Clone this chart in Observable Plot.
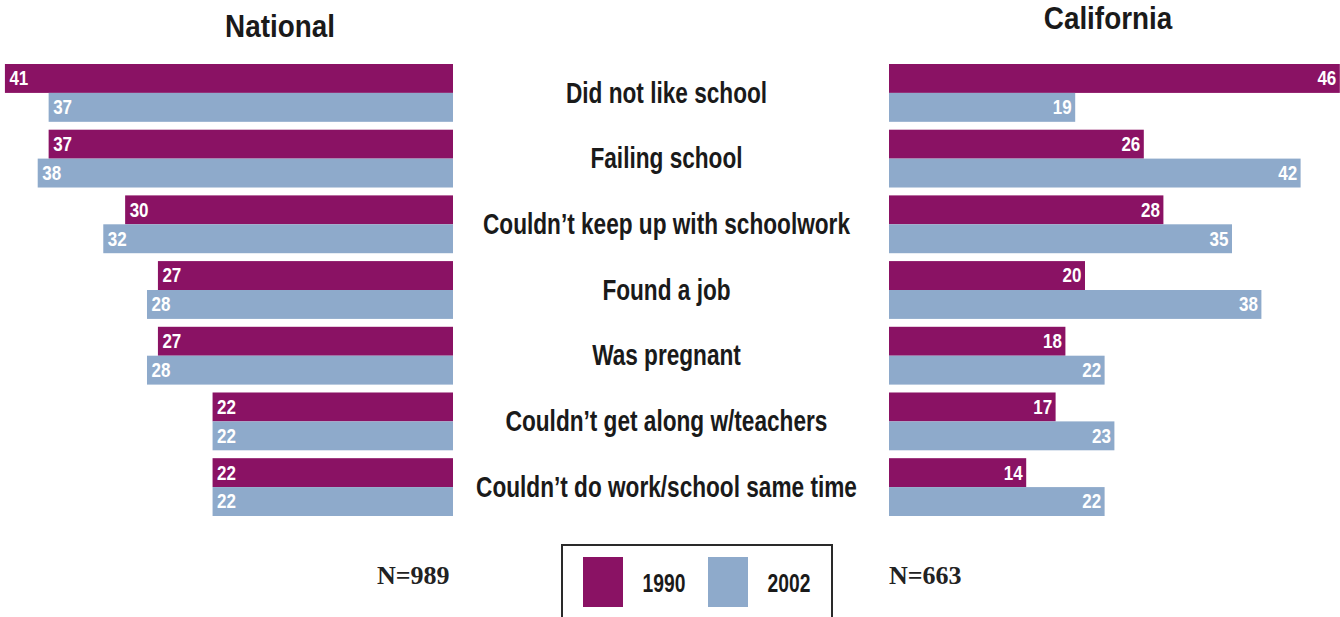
<!DOCTYPE html>
<html>
<head>
<meta charset="utf-8">
<script src="https://cdn.jsdelivr.net/npm/d3@7"></script>
<script src="https://cdn.jsdelivr.net/npm/@observablehq/plot@0.6"></script>
<style>
  html, body { margin: 0; padding: 0; background: #fff; }
  #root { position: relative; width: 1340px; height: 617px; overflow: hidden; background: #fff;
          font-family: "Liberation Sans", Arial, sans-serif; }
  .title { font-weight: bold; font-size: 32px; line-height: 32px; color: #1a1a1a; text-align: center; width: 300px;
           transform: scaleX(0.87); transform-origin: 50% 50%; white-space: nowrap; }
  .nlab { font-family: "Liberation Serif", "Times New Roman", serif; font-weight: bold; font-size: 26px; line-height: 26px; color: #222; white-space: nowrap; }
  .legbox { border: 2px solid #2a2a2a; box-sizing: border-box; }
  .legtext { font-weight: bold; font-size: 26px; line-height: 26px; color: #1a1a1a; text-align: center; width: 80px;
             transform: scaleX(0.74); transform-origin: 50% 50%; }
  svg { overflow: visible; }
</style>
</head>
<body>
<div id="root"></div>
<script>
// ---- data ----
const categories = [
  "Did not like school",
  "Failing school",
  "Couldn\u2019t keep up with schoolwork",
  "Found a job",
  "Was pregnant",
  "Couldn\u2019t get along w/teachers",
  "Couldn\u2019t do work/school same time"
];
const years = ["1990", "2002"];
const yearColors = ["#8a1264", "#8eaacb"];
const national1990 = [41, 37, 30, 27, 27, 22, 22];
const national2002 = [37, 38, 32, 28, 28, 22, 22];
const california1990 = [46, 26, 28, 20, 18, 17, 14];
const california2002 = [19, 42, 35, 38, 22, 23, 22];
const panelTitles = ["National", "California"];
const sampleSizes = ["N=989", "N=663"];

// ---- build tables ----
function rows(v1990, v2002) {
  const out = [];
  categories.forEach((c, i) => {
    out.push({cat: c, year: years[0], value: v1990[i]});
    out.push({cat: c, year: years[1], value: v2002[i]});
  });
  return out;
}
const nationalRows = rows(national1990, national2002);
const californiaRows = rows(california1990, california2002);

const FONT = '"Liberation Sans", Arial, sans-serif';
const H = 530;
const fyOpts = {domain: categories, paddingInner: 0.12, paddingOuter: 0, round: false, axis: null, label: null};
const yOpts = {domain: years, padding: 0, round: false, axis: null, label: null};
const colorOpts = {domain: years, range: yearColors};

const root = document.getElementById("root");
function place(el, left, top) {
  el.style.position = "absolute";
  el.style.left = left + "px";
  el.style.top = top + "px";
  root.appendChild(el);
}
// condense svg text horizontally (narrow bold face look)
function condense(svg, factor) {
  svg.querySelectorAll("text").forEach(t => {
    const len = t.getComputedTextLength();
    if (len > 0) {
      t.setAttribute("textLength", (len * factor).toFixed(2));
      t.setAttribute("lengthAdjust", "spacingAndGlyphs");
    }
  });
}

// National (bars grow leftward)
const nat = Plot.plot({
  width: 460, height: H,
  marginLeft: 0, marginRight: 7, marginTop: 64, marginBottom: H - 516,
  style: {fontFamily: FONT, background: "transparent"},
  x: {domain: [0, 41.45], reverse: true, axis: null},
  y: yOpts, fy: fyOpts, color: colorOpts,
  marks: [
    Plot.barX(nationalRows, {x: "value", y: "year", fy: "cat", fill: "year"}),
    Plot.text(nationalRows, {x: "value", y: "year", fy: "cat", text: d => String(d.value),
      textAnchor: "start", dx: 4, fill: "white", fontWeight: "bold", fontSize: 20, fontFamily: FONT})
  ]
});
place(nat, 0, 0);
condense(nat, 0.85);

// Center labels
const mid = Plot.plot({
  width: 426, height: H,
  marginLeft: 0, marginRight: 0, marginTop: 64, marginBottom: H - 516,
  style: {fontFamily: FONT, background: "transparent"},
  fy: fyOpts,
  marks: [
    Plot.text(categories, {fy: d => d, text: d => d, frameAnchor: "middle",
      fill: "#1a1a1a", fontWeight: "bold", fontSize: 29, fontFamily: FONT})
  ]
});
place(mid, 453, 0);
condense(mid, 0.78);

// California (bars grow rightward)
const cal = Plot.plot({
  width: 451, height: H,
  marginLeft: 0, marginRight: 0, marginTop: 64, marginBottom: H - 516,
  style: {fontFamily: FONT, background: "transparent"},
  x: {domain: [0, 46.02], axis: null},
  y: yOpts, fy: fyOpts, color: colorOpts,
  marks: [
    Plot.barX(californiaRows, {x: "value", y: "year", fy: "cat", fill: "year"}),
    Plot.text(californiaRows, {x: "value", y: "year", fy: "cat", text: d => String(d.value),
      textAnchor: "end", dx: -4, fill: "white", fontWeight: "bold", fontSize: 20, fontFamily: FONT})
  ]
});
place(cal, 889, 0);
condense(cal, 0.85);

// Titles
const t1 = document.createElement("div"); t1.className = "title"; t1.textContent = panelTitles[0];
place(t1, 280 - 150, 10);
const t2 = document.createElement("div"); t2.className = "title"; t2.textContent = panelTitles[1];
t2.style.lineHeight = "26px";
place(t2, 1108 - 150, 5);

// N labels
const n1 = document.createElement("div"); n1.className = "nlab"; n1.textContent = sampleSizes[0];
place(n1, 377, 563);
const n2 = document.createElement("div"); n2.className = "nlab"; n2.textContent = sampleSizes[1];
place(n2, 889, 563);

// Legend
const box = document.createElement("div"); box.className = "legbox";
box.style.width = "272px"; box.style.height = "90px";
place(box, 561, 544);
const swX = [583, 708], txtX = [664, 789];
years.forEach((yr, i) => {
  const sw = document.createElement("div");
  sw.style.width = "40px"; sw.style.height = "50px"; sw.style.background = yearColors[i];
  place(sw, swX[i], 557);
  const tx = document.createElement("div"); tx.className = "legtext"; tx.textContent = yr;
  place(tx, txtX[i] - 40, 570);
});
</script>
</body>
</html>
